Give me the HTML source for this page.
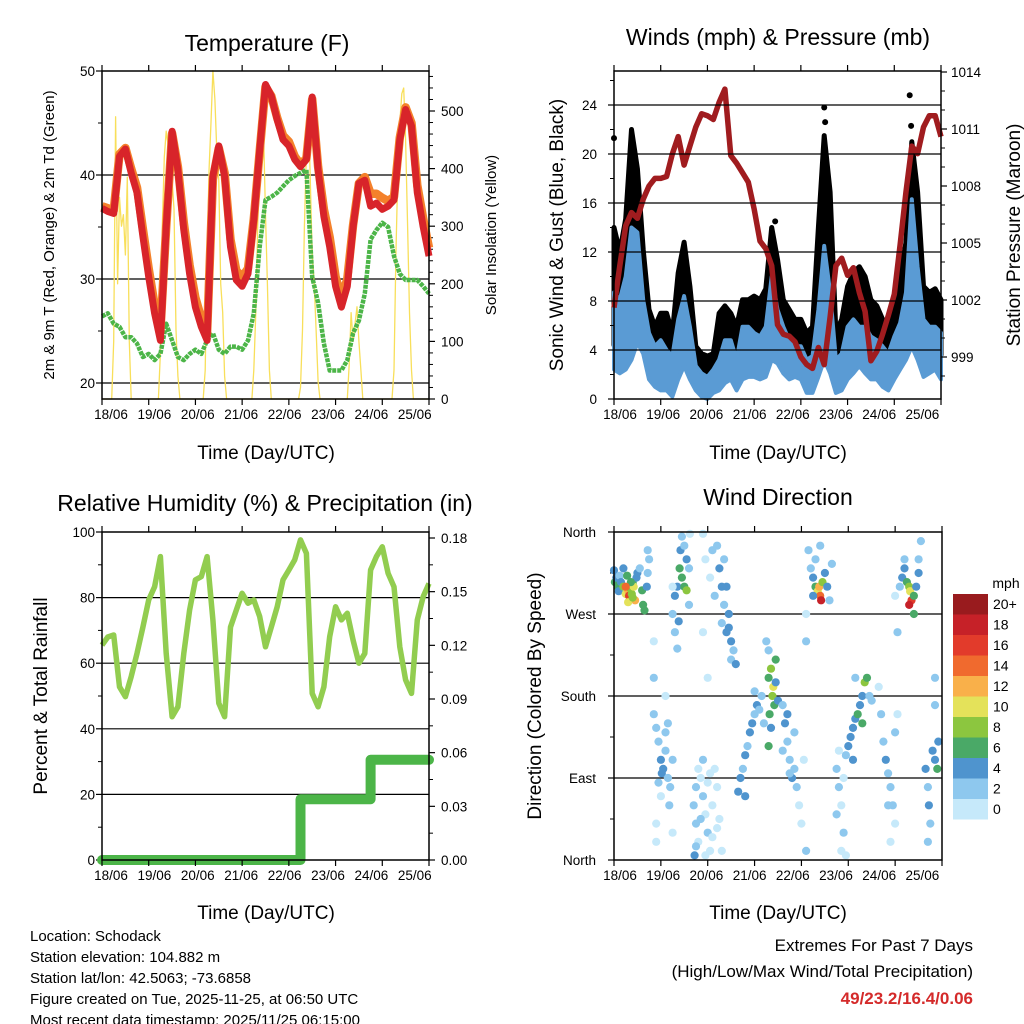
<!DOCTYPE html>
<html><head><meta charset="utf-8"><title>Weather station charts</title>
<style>
html,body{margin:0;padding:0;background:#fff;}
svg{display:block;font-family:"Liberation Sans",Arial,sans-serif;}
</style></head>
<body>
<svg id="root" width="1024" height="1024" viewBox="0 0 1024 1024" xmlns="http://www.w3.org/2000/svg">
<rect x="0" y="0" width="1024" height="1024" fill="#fff"/>
<text x="267" y="51" font-size="23" text-anchor="middle">Temperature (F)</text>
<text x="778" y="45" font-size="23" text-anchor="middle">Winds (mph) &amp; Pressure (mb)</text>
<text x="265" y="511" font-size="23" text-anchor="middle">Relative Humidity (%) &amp; Precipitation (in)</text>
<text x="778" y="505" font-size="23" text-anchor="middle">Wind Direction</text>
<text x="266" y="459" font-size="19" text-anchor="middle">Time (Day/UTC)</text>
<text x="778" y="459" font-size="19" text-anchor="middle">Time (Day/UTC)</text>
<text x="266" y="919" font-size="19" text-anchor="middle">Time (Day/UTC)</text>
<text x="778" y="919" font-size="19" text-anchor="middle">Time (Day/UTC)</text>
<text transform="translate(54,235) rotate(-90)" font-size="15" text-anchor="middle">2m &amp; 9m T (Red, Orange) &amp; 2m Td (Green)</text>
<text transform="translate(496,235) rotate(-90)" font-size="15" text-anchor="middle">Solar Insolation (Yellow)</text>
<text transform="translate(563,235) rotate(-90)" font-size="19" text-anchor="middle">Sonic Wind &amp; Gust (Blue, Black)</text>
<text transform="translate(1020,235) rotate(-90)" font-size="19" text-anchor="middle">Station Pressure (Maroon)</text>
<text transform="translate(47,696) rotate(-90)" font-size="19" text-anchor="middle">Percent &amp; Total Rainfall</text>
<text transform="translate(541,696) rotate(-90)" font-size="19" text-anchor="middle">Direction (Colored By Speed)</text>
<g font-size="15">
<text x="30" y="941">Location: Schodack</text>
<text x="30" y="962">Station elevation: 104.882 m</text>
<text x="30" y="983">Station lat/lon: 42.5063; -73.6858</text>
<text x="30" y="1004">Figure created on Tue, 2025-11-25, at 06:50 UTC</text>
<text x="30" y="1025">Most recent data timestamp: 2025/11/25 06:15:00</text>
</g>
<text x="973" y="951" font-size="17" text-anchor="end">Extremes For Past 7 Days</text>
<text x="973" y="977" font-size="17" text-anchor="end">(High/Low/Max Wind/Total Precipitation)</text>
<text x="973" y="1004" font-size="17" font-weight="bold" fill="#d42a2a" text-anchor="end">49/23.2/16.4/0.06</text>
</svg>
<script>
var dayLabels = ["18/06","19/06","20/06","21/06","22/06","23/06","24/06","25/06"];
var temp2m = [36.8,36.5,36.3,41.8,42.5,40.2,38.3,34.1,30.2,26.7,24.1,35,44.2,40.5,34.7,30.5,27.3,25.4,24.1,39.9,42.8,39.9,33.1,29.9,29.3,30.5,35.7,42.4,48.7,47.6,45.3,43.4,42.8,41.5,40.8,41.5,47.5,40.5,36,33.1,29.3,27.3,29.3,35,39.2,39.5,37,37.3,36.7,37,37.6,43.4,46.3,44.7,38.3,35,32.2];
var temp9m = [37.0,36.8,36.6,42.0,42.6,40.6,38.8,34.8,31.0,27.5,25.0,35.0,44.0,40.8,35.4,31.3,28.2,26.2,24.8,39.6,42.6,40.2,33.8,30.8,30.2,31.0,35.8,42.3,48.5,47.6,45.5,43.8,43.2,41.8,41.0,41.6,47.3,40.8,36.7,34.0,30.2,28.2,30.0,35.2,39.2,39.8,38.2,38.2,37.8,37.5,37.9,43.6,46.5,45.0,39.0,35.8,33.0];
var dewpt2m = [26.4,26.7,25.7,25.4,24.4,24.4,23.8,22.5,22.8,22.2,22.8,25.7,24.1,22.5,22.2,22.8,23.2,22.8,24.1,24.8,23.2,22.8,23.5,23.5,23.2,24.1,26.7,33.1,37.6,37.9,38.3,38.9,39.5,39.9,40.2,40.5,30.2,27.7,23.8,21.2,21.2,21.2,22.2,24.8,26,28.6,33.8,34.7,35.4,35,32.2,30.5,29.9,29.9,29.9,29.3,28.6];
var solar = [
0,0,0,0,0,0,100,490,200,350,300,320,250,385,100,0,0,0,0,0,0,0,0,0,
0,0,0,0,0,0,80,300,420,465,440,420,380,330,120,40,0,0,0,0,0,0,0,0,
0,0,0,0,0,50,250,400,480,570,520,430,380,200,150,40,0,0,0,0,0,0,0,0,
0,0,0,0,0,0,50,150,300,400,440,460,320,200,50,0,0,0,0,0,0,0,0,0,
0,0,0,0,0,0,20,120,300,430,510,380,250,200,120,30,0,0,0,0,0,0,0,0,
0,0,0,0,0,0,0,60,150,100,130,160,100,50,0,0,0,0,0,0,0,0,0,0,
0,0,0,0,0,0,50,250,400,480,530,540,450,300,150,50,0,0,0,0,0,0,0,0,0];
var pressure = [1001.6,1003.8,1005.9,1006.6,1006.3,1007.3,1008.0,1008.4,1008.4,1008.5,1009.7,1010.6,1009.1,1010.1,1011.1,1011.8,1011.7,1011.5,1012.4,1013.1,1009.6,1009.2,1008.7,1008.2,1006.8,1005.1,1004.7,1003.8,1000.7,1000.2,1000.1,999.8,999.0,998.6,998.4,999.5,998.6,1001.1,1003.8,1004.2,1003.3,1003.7,1002.4,1001.4,998.8,999.3,1000.2,1001.2,1002.3,1004.9,1007.7,1010.1,1009.7,1011.1,1011.7,1011.7,1010.6];
var windLo = [2.4,2.1,2.4,3.2,4.6,3.7,1.6,1,0.7,0.7,0.2,1.6,2.7,1.6,0.7,0.2,0,0.5,0.7,1.3,1.6,0.7,1.6,1.8,1.8,1.6,1.8,3.2,2.9,2.1,1.6,1.8,1.6,0.5,0.5,1.8,3.2,2.1,0.5,0.7,1.6,2.1,2.7,2.1,1.6,1.6,1,0.7,1.6,2.4,3.2,4.3,3.2,1.8,2.1,2.4,1.6];
var windHi = [8.7,8.1,10,14,13.6,8.1,5.4,4.3,4.8,4,3.5,6.5,8.4,5.9,2.7,2.1,1.8,2.4,3.2,4.8,4.8,3.2,5.9,5.9,5.4,5.1,5.9,10,7.3,5.9,4.8,4.3,4.3,3.2,3.5,7.3,12.5,8.7,3.2,3.7,5.9,6.5,5.9,5.9,5.1,4.8,4.3,3.7,5.1,6.2,8.7,16.3,10.8,6.5,5.9,5.9,5.4];
var gustHi = [14,12,14.7,22,18.8,12.2,7.3,5.9,7,7,5.4,10.3,12.8,9.2,4.3,3.7,3.5,3.7,7,7.6,7,5.9,8.1,8.1,8.4,8.1,9,14,11.4,8.1,7.3,6.5,6.5,5.4,5.9,14,21.5,16.9,5.4,6.5,9.2,10.3,10.8,10,8.1,7.6,6.5,5.4,8.1,10,12.8,21,16.9,9.2,8.7,9,8.1];
var gustOutT = [0.0,4.5,6.33,6.36,0.4,0.45,3.45,4.52];
var gustOutV = [21.3,23.8,24.8,22.3,19.5,18.6,14.5,22.6];
var relHum = [65.5,68,68.6,52.8,49.8,55.9,63,71,79.3,83.3,92.5,63,43.7,46.7,63,76.2,85.4,86.4,92.5,73.2,47.8,43.7,71,76.2,81.3,78.3,79.3,74.2,65,71,77.2,85.4,88.4,91.5,97.6,93.5,50.8,46.7,52.8,68.1,77.2,73.2,75.2,67,60,63,88.4,92.5,95.5,87.4,83.3,65,54.9,50.8,73.2,80.3,84.3];
var precip = [0,0,0,0,0,0,0,0,0,0,0,0,0,0,0,0,0,0,0,0,0,0,0,0,0,0,0,0,0,0,0,0,0,0,0.034,0.034,0.034,0.034,0.034,0.034,0.034,0.034,0.034,0.034,0.034,0.034,0.056,0.056,0.056,0.056,0.056,0.056,0.056,0.056,0.056,0.056,0.056];
var dirT = [0.0,0.02,0.05,0.08,0.1,0.12,0.15,0.2,0.25,0.3,0.32,0.35,0.38,0.4,0.42,0.45,0.48,0.5,0.55,0.6,0.62,0.65,0.7,0.72,0.75,0.72,0.2,0.28,0.36,0.3,0.25,0.4,
1.25,1.3,1.3,1.35,1.4,1.42,1.45,1.5,1.55,1.45,1.5,1.55,1.6,1.62,1.35,1.38,1.25,1.6,
1.9,1.95,2.05,2.1,1.9,2.15,2.0,1.1,0.85,0.85,
2.25,2.3,2.35,2.3,2.4,2.45,2.5,2.55,2.5,2.6,2.4,2.35,2.2,2.45,
0.85,0.9,0.95,1.0,1.02,1.05,1.1,1.15,1.2,1.1,1.0,1.18,0.9,0.9,1.25,1.25,1.15,0.95,
1.7,1.75,1.8,1.75,1.85,1.9,1.95,2.0,2.05,2.1,2.15,2.2,1.8,1.85,2.0,2.1,2.25,2.3,1.95,2.05,1.75,2.2,1.72,1.9,
2.65,2.7,2.75,2.8,2.85,2.9,2.95,3.0,3.05,3.1,3.15,2.8,3.2,3.0,
3.3,3.35,3.4,3.38,3.45,3.42,3.32,3.3,3.35,3.45,3.5,3.3,3.25,
3.6,3.65,3.7,3.75,3.8,3.85,3.9,3.95,4.0,4.1,3.7,3.85,3.6,3.75,4.05,4.1,4.1,
4.15,4.2,4.25,4.3,4.35,4.4,4.42,4.38,4.45,4.5,4.55,4.6,4.65,4.3,4.4,4.25,
4.75,4.8,4.85,4.9,4.8,4.75,4.9,4.85,4.95,
4.95,5.0,5.05,5.1,5.15,5.2,5.25,5.3,5.35,5.4,5.45,5.5,5.1,5.3,5.15,
5.75,5.8,5.85,5.9,5.95,6.0,6.0,5.85,5.9,6.05,5.65,5.7,
6.1,6.15,6.2,6.25,6.3,6.32,6.35,6.3,6.4,6.45,6.5,6.5,6.55,6.4,6.0,6.05,6.2,
6.65,6.7,6.72,6.75,6.7,6.8,6.85,6.9,6.92,6.85,6.85];
var dirDeg = [318,305,310,300,295,312,305,300,292,296,290,298,292,304,300,285,310,315,320,296,280,274,300,315,330,340,320,312,305,283,300,288,
270,290,250,300,320,340,310,300,296,355,345,330,320,358,232,262,300,280,
358,330,310,340,250,290,200,180,200,240,
320,300,280,260,250,270,240,230,220,215,300,330,345,255,
160,145,130,110,95,100,120,90,80,140,70,60,40,20,30,110,150,85,
60,40,20,80,90,70,50,30,10,60,100,80,100,45,85,25,45,10,5,95,15,35,5,110,
75,90,100,115,125,140,150,160,170,165,180,70,150,185,
200,210,190,180,220,170,160,125,145,195,175,230,240,
170,150,130,110,90,100,80,60,40,10,160,140,120,95,110,240,270,
340,320,310,300,295,290,285,300,305,315,300,285,325,330,345,290,
100,80,60,30,120,50,90,10,5,
115,125,135,145,155,160,170,180,195,200,180,175,110,150,200,
130,110,95,80,60,40,140,60,20,160,190,160,
300,310,320,305,300,295,285,280,290,300,315,330,350,270,290,250,330,
100,80,60,40,20,120,110,100,130,200,170];
var dirSpd = [4,6,5,6,4,3,5,8,10,12,16,9,8,7,10,12,5,4,3,6,7,6,4,2,3,2,4,6,7,10,14,8,
3,4,3,5,6,4,7,6,8,2,3,4,2,1,2,4,1,2,
1,1,1,2,1,2,1,1,2,1,
4,4,3,3,4,5,4,2,3,4,5,2,2,5,
2,3,2,4,4,5,3,3,2,2,1,2,1,1,1,2,3,3,
3,2,1,2,1,2,1,2,1,1,1,1,1,2,1,0,1,1,0,1,2,0,4,2,
4,4,3,4,3,4,4,3,4,2,3,5,2,2,
7,8,10,9,6,6,7,6,4,5,4,3,2,
3,4,3,2,4,3,2,1,1,2,4,3,2,3,1,2,1,
2,3,4,6,10,14,18,12,8,5,4,3,2,3,2,4,
2,2,1,2,1,2,1,1,1,
3,4,4,5,4,6,4,5,8,7,3,2,4,6,2,
3,4,3,2,2,1,2,2,1,1,1,3,
2,4,5,6,8,10,16,18,7,5,4,2,2,6,1,2,2,
4,3,4,3,2,4,5,6,4,2,2];
var speedLabels = ["20+","18","16","14","12","10","8","6","4","2","0"];
var speedColors = ["#c6e9fa","#8ec8ee","#4f94ce","#4aa967","#8cc63f","#e4e25a","#f9b04a","#f06a2e","#e23b2b","#c62128","#991b1e"];

var NS = "http://www.w3.org/2000/svg";
var root = document.getElementById("root");
function mk(tag, attrs, parent) {
  var e = document.createElementNS(NS, tag);
  for (var k in attrs) e.setAttribute(k, attrs[k]);
  (parent || root).appendChild(e);
  return e;
}
function lin(d0, d1, r0, r1) { return function (v) { return r0 + (v - d0) * (r1 - r0) / (d1 - d0); }; }
function panel(name, x0, x1, y0, y1) {
  var g = mk("g", {});
  
  
  return {g: g, x0: x0, x1: x1, y0: y0, y1: y1, xs: lin(0, 7, x0, x1)};
}
function frame(p) {
  var r = mk("rect", {x: p.x0, y: p.y0, width: p.x1 - p.x0, height: p.y1 - p.y0, fill: "none", stroke: "#000", "stroke-width": 1.5}, p.g);
  
  
}
function timeAxis(p, labelStart, labelStep) {
  for (var i = 0; i < dayLabels.length; i++) {
    var x = p.xs(i);
    var t1 = mk("line", {x1: x, x2: x, y1: p.y1, y2: p.y1 + 6, stroke: "#000", "stroke-width": 1.2}, p.g);
    
    
    var t2 = mk("line", {x1: x, x2: x, y1: p.y0, y2: p.y0 - 6, stroke: "#000", "stroke-width": 1.2}, p.g);
    
    
    var tx = mk("text", {x: p.x0 + labelStart + i * labelStep, y: p.y1 + 20, "font-size": 13.5, "text-anchor": "middle"}, p.g);
    tx.textContent = dayLabels[i];
    
    
  }
}
function yAxis(p, ys, ticks, labels, side, minor, grid, lx) {
  for (var i = 0; i < ticks.length; i++) {
    var y = ys(ticks[i]);
    var xe = side === "left" ? p.x0 : p.x1;
    var dir = side === "left" ? -1 : 1;
    var tk = mk("line", {x1: xe, x2: xe + dir * 6, y1: y, y2: y, stroke: "#000", "stroke-width": 1.2}, p.g);
    
    
    if (grid && y > p.y0 + 2 && y < p.y1 - 2) {
      var gl = mk("line", {x1: p.x0, x2: p.x1, y1: y, y2: y, stroke: "#000", "stroke-width": 1.2}, p.g);
      
      
    }
    var tx = mk("text", {x: lx, y: y + 5, "font-size": 13.5, "text-anchor": side === "left" ? "end" : "start"}, p.g);
    tx.textContent = labels[i];
    
    
  }
  for (var j = 0; j < minor.length; j++) {
    var ym = ys(minor[j]);
    if (ym < p.y0 || ym > p.y1) continue;
    var xe2 = side === "left" ? p.x0 : p.x1;
    var d2 = side === "left" ? -1 : 1;
    var mt = mk("line", {x1: xe2, x2: xe2 + d2 * 4, y1: ym, y2: ym, stroke: "#000", "stroke-width": 1}, p.g);
    
    
  }
}
function pathFrom(xs, ys, vals, step) {
  var d = "";
  for (var i = 0; i < vals.length; i++) {
    d += (i ? "L" : "M") + xs(i / step).toFixed(1) + "," + ys(vals[i]).toFixed(1);
  }
  return d;
}

// Panel 1
var p1 = panel("temperature-panel", 102, 429, 71, 399);
var ty = lin(20, 50, 383, 71);
var sy = lin(0, 500, 399, 111);
yAxis(p1, ty, [20, 30, 40, 50], ["20", "30", "40", "50"], "left", [25, 35, 45], true, 95);
yAxis(p1, sy, [0, 100, 200, 300, 400, 500], ["0", "100", "200", "300", "400", "500"], "right", [20,40,60,80,120,140,160,180,220,240,260,280,320,340,360,380,420,440,460,480,520,540,560], false, 441);
var solarLine = mk("path", {d: pathFrom(p1.xs, sy, solar, 24), fill: "none", stroke: "#f8df5a", "stroke-width": 1.3, "stroke-linejoin": "round"}, p1.g);


var tdLine = mk("path", {d: pathFrom(p1.xs, ty, dewpt2m, 8), fill: "none", stroke: "#4cb548", "stroke-width": 4.5, "stroke-dasharray": "4,1", "stroke-linejoin": "round"}, p1.g);


var t9Line = mk("path", {d: pathFrom(p1.xs, ty, temp9m, 8), fill: "none", stroke: "#f4812b", "stroke-width": 8.5, "stroke-linejoin": "round"}, p1.g);


var t2Line = mk("path", {d: pathFrom(p1.xs, ty, temp2m, 8), fill: "none", stroke: "#d8242a", "stroke-width": 7, "stroke-linejoin": "round"}, p1.g);


frame(p1);
timeAxis(p1, 9, 43.4);

// Panel 2
var p2 = panel("winds-panel", 614, 941, 71, 399);
var wy = lin(0, 24, 399, 105);
var py = lin(999, 1011, 357, 129);
var gustPts = "", i;
for (i = 0; i < gustHi.length; i++) gustPts += p2.xs(i / 8).toFixed(1) + "," + wy(gustHi[i]).toFixed(1) + " ";
for (i = windLo.length - 1; i >= 0; i--) gustPts += p2.xs(i / 8).toFixed(1) + "," + wy(windLo[i] + 2).toFixed(1) + " ";
var gustBand = mk("polygon", {points: gustPts, fill: "#000", stroke: "#000", "stroke-width": 5, "stroke-linejoin": "round"}, p2.g);


for (i = 0; i < gustOutT.length; i++) {
  var go = mk("circle", {cx: p2.xs(gustOutT[i]), cy: wy(gustOutV[i]), r: 3, fill: "#000"}, p2.g);
  
  
}
var windPts = "";
for (i = 0; i < windHi.length; i++) windPts += p2.xs(i / 8).toFixed(1) + "," + wy(windHi[i]).toFixed(1) + " ";
for (i = windLo.length - 1; i >= 0; i--) windPts += p2.xs(i / 8).toFixed(1) + "," + wy(windLo[i]).toFixed(1) + " ";
var windBand = mk("polygon", {points: windPts, fill: "#5a9bd4", stroke: "#5a9bd4", "stroke-width": 4, "stroke-linejoin": "round"}, p2.g);


var pLine = mk("path", {d: pathFrom(p2.xs, py, pressure, 8), fill: "none", stroke: "#a01c1f", "stroke-width": 5.5, "stroke-linejoin": "round"}, p2.g);


yAxis(p2, wy, [0, 4, 8, 12, 16, 20, 24], ["0", "4", "8", "12", "16", "20", "24"], "left", [2,6,10,14,18,22,26], true, 597);
yAxis(p2, py, [999, 1002, 1005, 1008, 1011, 1014], ["999", "1002", "1005", "1008", "1011", "1014"], "right", [998,1000,1001,1003,1004,1006,1007,1009,1010,1012,1013], false, 951);
frame(p2);
timeAxis(p2, 6, 43.2);

// Panel 3
var p3 = panel("humidity-panel", 102, 429, 532, 860);
var hy = lin(0, 100, 860, 532);
var ry = lin(0, 0.18, 860, 538);
yAxis(p3, hy, [0, 20, 40, 60, 80, 100], ["0", "20", "40", "60", "80", "100"], "left", [10,30,50,70,90], true, 95);
yAxis(p3, ry, [0, 0.03, 0.06, 0.09, 0.12, 0.15, 0.18], ["0.00", "0.03", "0.06", "0.09", "0.12", "0.15", "0.18"], "right", [0.015,0.045,0.075,0.105,0.135,0.165], false, 441);
var rhLine = mk("path", {d: pathFrom(p3.xs, hy, relHum, 8), fill: "none", stroke: "#92cd50", "stroke-width": 5.5, "stroke-linejoin": "round"}, p3.g);


var pd = "";
for (i = 0; i < precip.length; i++) {
  var px = p3.xs(i / 8).toFixed(1);
  if (i === 0) pd += "M" + px + "," + ry(precip[0]).toFixed(1);
  else pd += "L" + px + "," + ry(precip[i - 1]).toFixed(1) + "L" + px + "," + ry(precip[i]).toFixed(1);
}
var prLine = mk("path", {d: pd, fill: "none", stroke: "#4cb548", "stroke-width": 10, "stroke-linecap": "round", "stroke-linejoin": "round"}, p3.g);


frame(p3);
timeAxis(p3, 9, 43.4);

// Panel 4
var p4 = panel("wind-direction-panel", 614, 942, 532, 860);
var dy = lin(0, 360, 860, 532);
yAxis(p4, dy, [0, 90, 180, 270, 360], ["North", "East", "South", "West", "North"], "left", [45,135,225,315], true, 596);
for (i = 0; i < dirT.length; i++) {
  var bin = Math.min(10, Math.floor(dirSpd[i] / 2));
  var dot = mk("circle", {cx: p4.xs(dirT[i]).toFixed(1), cy: dy(dirDeg[i]).toFixed(1), r: 4.1, fill: speedColors[bin]}, p4.g);
  
  
}
frame(p4);
timeAxis(p4, 6, 43.2);

var cb = mk("g", {});


var mphT = mk("text", {x: 1006, y: 588, "font-size": 14, "text-anchor": "middle"}, cb);
mphT.textContent = "mph";


for (i = 0; i < speedLabels.length; i++) {
  var by = 594 + i * 20.5;
  var box = mk("rect", {x: 953, y: by, width: 35, height: 20.5, fill: speedColors[10 - i]}, cb);
  
  
  var bl = mk("text", {x: 993, y: by + 15, "font-size": 14}, cb);
  bl.textContent = speedLabels[i];
  
  
}
</script>
</body></html>
